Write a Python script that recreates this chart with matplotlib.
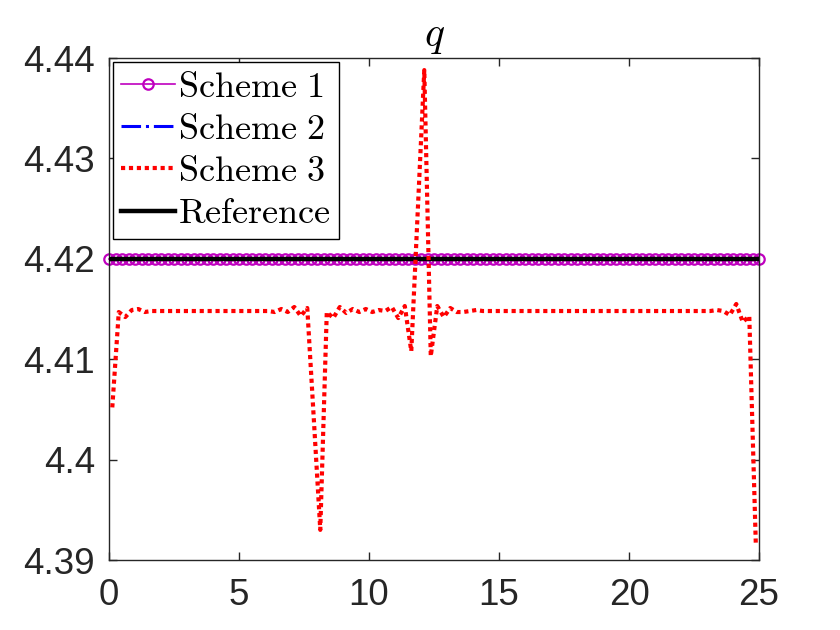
import numpy as np
import matplotlib
matplotlib.use('Agg')
import matplotlib.pyplot as plt
from matplotlib.ticker import FuncFormatter

#Datos

q_ref = 4.42
x_nodes = np.linspace(0, 25, 101)          # malla de nodos (Scheme 1, 2)
x_cells = np.arange(100)*0.25 + 0.125      # centros de celda (Scheme 3)

q_scheme3 = [
    4.4052, 4.4147, 4.4142, 4.4149, 4.4150, 4.4147,
    4.4148, 4.4148, 4.4148, 4.4148, 4.4148, 4.4148,
    4.4148, 4.4148, 4.4148, 4.4148, 4.4148, 4.4148,
    4.4148, 4.4148, 4.4148, 4.4148, 4.4148, 4.4148,
    4.4148, 4.4147, 4.4150, 4.4147, 4.4152, 4.4143,
    4.4151, 4.4041, 4.3930, 4.4147, 4.4141, 4.4152,
    4.4146, 4.4150, 4.4147, 4.4150, 4.4147, 4.4149,
    4.4148, 4.4152, 4.4141, 4.4153, 4.4108, 4.4248,
    4.4388, 4.4103, 4.4153, 4.4142, 4.4151, 4.4147,
    4.4147, 4.4148, 4.4149,
    4.4148, 4.4148, 4.4148, 4.4148, 4.4148, 4.4148,
    4.4148, 4.4148, 4.4148, 4.4148, 4.4148, 4.4148,
    4.4148, 4.4148, 4.4148, 4.4148, 4.4148, 4.4148,
    4.4148, 4.4148, 4.4148, 4.4148, 4.4148, 4.4148,
    4.4148, 4.4148, 4.4148, 4.4148, 4.4148, 4.4148,
    4.4148, 4.4148, 4.4148, 4.4148, 4.4148, 4.4148,
    4.4149, 4.4148, 4.4144, 4.4155, 4.4137, 4.4143, 4.3917,
]

q_scheme1 = np.full(len(x_nodes), q_ref)
q_scheme2 = np.full(len(x_nodes), q_ref)
x_ref = [0, 25]
q_reference = [q_ref, q_ref]

xticks = [0, 5, 10, 15, 20, 25]
yticks = [4.39, 4.40, 4.41, 4.42, 4.43, 4.44]

#Estilo

plt.rcParams['mathtext.fontset'] = 'cm'
plt.rcParams['font.family'] = ['Liberation Sans', 'DejaVu Sans']
gris = '#262626'

fig = plt.figure(figsize=(8.4, 6.3), dpi=100)
ax = fig.add_axes([0.1298, 0.1111, 0.7738, 0.7968])

ax.plot(x_nodes, q_scheme2, '-.', color='b', lw=2.2, zorder=1,
        label=r'$\mathrm{Scheme\ 2}$')
ax.plot(x_nodes, q_scheme1, '-o', color='m', lw=1.2, ms=7.5, mfc='none',
        mew=1.6, zorder=2, clip_on=False, label=r'$\mathrm{Scheme\ 1}$')
ax.plot(x_ref, q_reference, '-', color='k', lw=3.2, zorder=3,
        label=r'$\mathrm{Reference}$')
ax.plot(x_cells, q_scheme3, color='r', lw=3.0, dashes=(1, 0.9), zorder=4,
        label=r'$\mathrm{Scheme\ 3}$')

ax.set_xlim(0, 25)
ax.set_ylim(4.39, 4.44)
ax.set_xticks(xticks)
ax.set_yticks(yticks)
ax.yaxis.set_major_formatter(FuncFormatter(lambda v, p: '%g' % round(v, 4)))

ax.tick_params(direction='in', length=6, width=1, colors=gris,
               labelsize=26.5, top=True, right=True)
ax.tick_params(axis='x', pad=13)
ax.tick_params(axis='y', pad=10)
for s in ax.spines.values():
    s.set_color(gris)
    s.set_linewidth(1.0)

ax.set_title(r'$q$', fontsize=30, pad=9)

h, l = ax.get_legend_handles_labels()
orden = [1, 0, 3, 2]
leg = ax.legend([h[i] for i in orden], [l[i] for i in orden],
                loc='upper left', fontsize=26, fancybox=False,
                framealpha=1, edgecolor='k', borderaxespad=0.1,
                borderpad=0.22, handlelength=1.5, handletextpad=0.1,
                labelspacing=0.2)
leg.get_frame().set_linewidth(1.0)

fig.savefig('out.png', dpi=100)
